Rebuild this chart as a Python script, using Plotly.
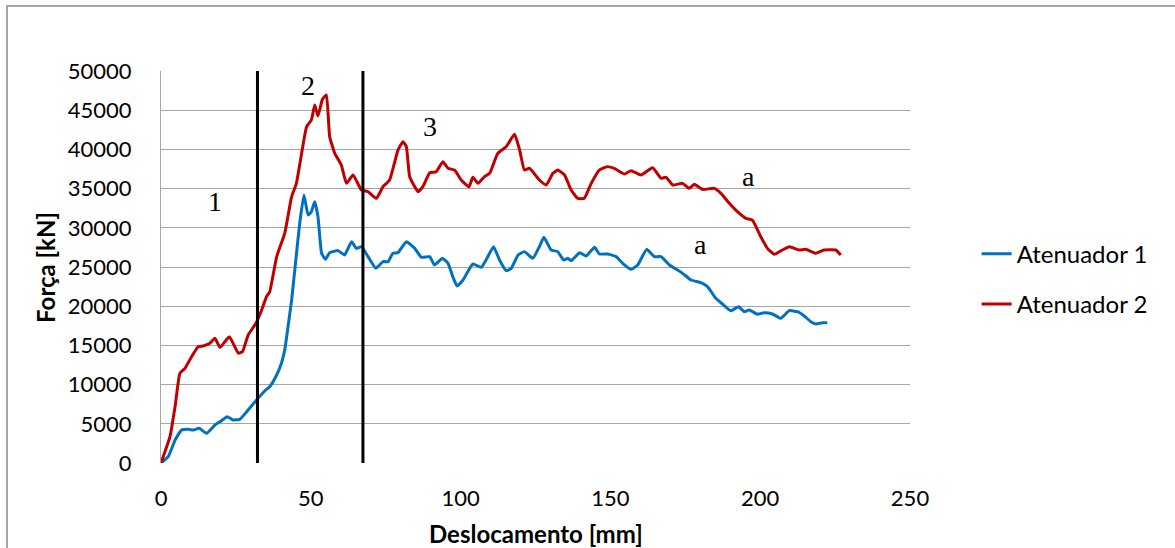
import plotly.graph_objects as go

# Atenuador 1 (force vs. displacement)
x1 = [0, 2.4, 4.7, 6.9, 9.1, 10.8, 12.8, 15.2, 18, 20.2, 22.1, 24.1, 26.3, 28.6, 31.9,
      34.7, 36.3, 38.6, 40.2, 41.3, 42.4, 43.6, 45, 46.3, 47.7, 49.1, 50.2, 51.3, 52.4,
      53.6, 54.9, 56.3, 59.1, 61.3, 63.6, 65.2, 66.9, 69.1, 71.7, 74.1, 75.8, 77.4, 79.1,
      81.9, 84.7, 86.9, 89.7, 91.3, 93.9, 95.8, 97.4, 98.8, 100.8, 104.1, 106.9, 108.8,
      111, 113, 115.2, 116.9, 119.2, 121.3, 124.1, 126.3, 127.8, 130.2, 132.4, 134.4,
      135.8, 136.9, 139.7, 141.9, 144.7, 146.3, 149.1, 151.9, 154.1, 156.9, 159.1, 162.1,
      164.7, 166.9, 169.7, 172.4, 174.1, 176.9, 180.2, 182.4, 185.2, 187.4, 190.2, 192.8,
      194.7, 196.3, 199.1, 201.3, 204.1, 206.9, 209.7, 212.4, 214.7, 216.9, 218.6, 220.8,
      222.4]
f1 = [0, 800, 2930, 4210, 4290, 4210, 4420, 3780, 4850, 5400, 5910, 5490, 5570, 6540, 8040,
      9220, 9730, 11220, 12720, 14410, 17390, 20790, 25890, 30570, 34180, 31630, 32050,
      33330, 31420, 26750, 25980, 26830, 27090, 26530, 28230, 27380, 27590, 26320, 24830,
      25680, 25680, 26750, 26830, 28230, 27380, 26240, 26320, 25250, 26110, 25470, 23760,
      22580, 23340, 25380, 24960, 26110, 27590, 25890, 24530, 24830, 26530, 26960, 26110,
      27590, 28790, 27170, 26960, 25890, 26110, 25810, 26830, 26410, 27510, 26660, 26660,
      26320, 25470, 24710, 25250, 27250, 26320, 26320, 25250, 24620, 24190, 23340, 23000,
      22490, 21000, 20280, 19430, 19940, 19300, 19520, 18970, 19170, 19010, 18450, 19430,
      19300, 18750, 18020, 17730, 17900, 17900]

# Atenuador 2 (force vs. displacement)
x2 = [0, 3, 4.7, 6.3, 8, 10.2, 12.4, 14.1, 16.3, 18, 19.7, 22.8, 25.8, 27.2, 29.1, 31.7,
      33.6, 35.2, 36.3, 38.6, 41.3, 43.6, 45.2, 48.6, 50.2, 51.3, 52.4, 53.9, 55.2, 56.3,
      58, 60.2, 61.9, 64.1, 66.9, 69.1, 71.9, 74.1, 76.3, 79.1, 80.8, 81.9, 83, 85.8, 87.4,
      89.7, 91.9, 94.1, 95.8, 98, 100.2, 102.8, 104.1, 105.8, 108, 109.7, 112.4, 115.2,
      118, 119.7, 121.3, 123, 126.3, 128.6, 130.8, 132.4, 134.7, 136.9, 139.1, 141.3,
      143.6, 146.3, 148.9, 151.3, 154.7, 156.9, 160.2, 164.1, 166.9, 168.6, 170.8, 174.1,
      176.3, 178, 180.8, 184.7, 186.9, 189.7, 192.4, 195.2, 197.4, 200.2, 202.4, 204.7,
      207.4, 209.7, 213, 215.2, 218.6, 221.3, 225.2, 226.9]
f2 = [0, 3350, 7200, 11440, 12080, 13560, 14830, 14920, 15260, 15900, 14750, 16100, 14000,
      14200, 16330, 17820, 19520, 21210, 21850, 26300, 29300, 33970, 35670, 42900, 43750,
      45660, 44260, 46400, 46940, 41620, 39500, 38000, 35670, 36730, 34820, 34600, 33760,
      35240, 36100, 39920, 40980, 40340, 36520, 34600, 35240, 37030, 37160, 38440, 37590,
      37370, 36100, 35240, 36440, 35670, 36520, 36950, 39500, 40340, 41920, 39920, 37370,
      37590, 36100, 35460, 36950, 37370, 36730, 34820, 33760, 33760, 35670, 37370, 37800,
      37590, 36860, 37290, 36730, 37670, 36310, 36440, 35460, 35670, 35030, 35540, 34900,
      35030, 34400, 33120, 32050, 31210, 30990, 28860, 27380, 26620, 27170, 27590, 27170,
      27250, 26750, 27170, 27170, 26530]

# Phase boundaries (mm)
phase_limits = [32.2, 67.4]

# Region labels: text, x (mm), force
label_text = ["1", "2", "3", "a", "a"]
label_x = [18, 49.1, 89.7, 196.1, 180.2]
label_y = [33330, 48210, 42900, 36520, 27930]

x_ticks = [0, 50, 100, 150, 200, 250]
y_ticks = list(range(0, 50001, 5000))
y_tick_labels = [str(v) for v in y_ticks]

BLUE = "#0070C0"
RED = "#C00000"
GRID = "#A6A6A6"
FONT = "Lato, Carlito, Calibri, sans-serif"

fig = go.Figure()
fig.add_trace(go.Scatter(x=x1, y=f1, mode="lines", name="Atenuador 1", legendgroup="a1",
                         line=dict(color=BLUE, width=3, shape="spline", smoothing=0.4)))
fig.add_trace(go.Scatter(x=x2, y=f2, mode="lines", name="Atenuador 2", legendgroup="a2",
                         line=dict(color=RED, width=3, shape="spline", smoothing=0.4)))

for xv in phase_limits:
    fig.add_trace(go.Scatter(x=[xv, xv], y=[0, 50000], mode="lines", showlegend=False,
                             hoverinfo="skip", line=dict(color="black", width=3)))

for t, xv, yv in zip(label_text, label_x, label_y):
    fig.add_annotation(x=xv, y=yv, text=t, showarrow=False,
                       font=dict(family="Liberation Serif, Times New Roman, serif",
                                 size=28, color="black"))

# Axis titles
fig.add_annotation(xref="paper", yref="paper", x=0.5, y=-0.179, yanchor="middle",
                   text="<b>Deslocamento [mm]</b>", showarrow=False,
                   font=dict(family=FONT, size=24, color="black"))
fig.add_annotation(xref="paper", yref="paper", x=-0.155, y=0.5, xanchor="center",
                   text="<b>Força [kN]</b>", textangle=-90, showarrow=False,
                   font=dict(family=FONT, size=24, color="black"))

# Outer chart frame
fig.add_shape(type="rect", xref="paper", yref="paper",
              x0=-0.2056, x1=1.36, y0=-0.3, y1=1.166,
              line=dict(color=GRID, width=2), fillcolor="rgba(0,0,0,0)", layer="below")

fig.update_xaxes(range=[0, 250], tickvals=x_ticks, showgrid=False, zeroline=False,
                 showline=False, ticks="", ticklabelstandoff=20,
                 tickfont=dict(family=FONT, size=22, color="black"))
fig.update_yaxes(range=[0, 50000], tickvals=y_ticks, ticktext=y_tick_labels,
                 showgrid=True, gridcolor=GRID,
                 gridwidth=1.3, zeroline=False, showline=True, linecolor=GRID,
                 linewidth=1.3, ticks="", ticklabelstandoff=24,
                 tickfont=dict(family=FONT, size=22, color="black"))

fig.update_layout(
    width=1175, height=548,
    margin=dict(l=161, r=265, t=71, b=85),
    paper_bgcolor="white", plot_bgcolor="white",
    showlegend=True,
    legend=dict(x=1.089, y=0.469, xanchor="left", yanchor="middle",
                font=dict(family=FONT, size=24, color="black"),
                tracegroupgap=16, itemwidth=30, bgcolor="rgba(0,0,0,0)"),
)

fig.write_html("out.html")
